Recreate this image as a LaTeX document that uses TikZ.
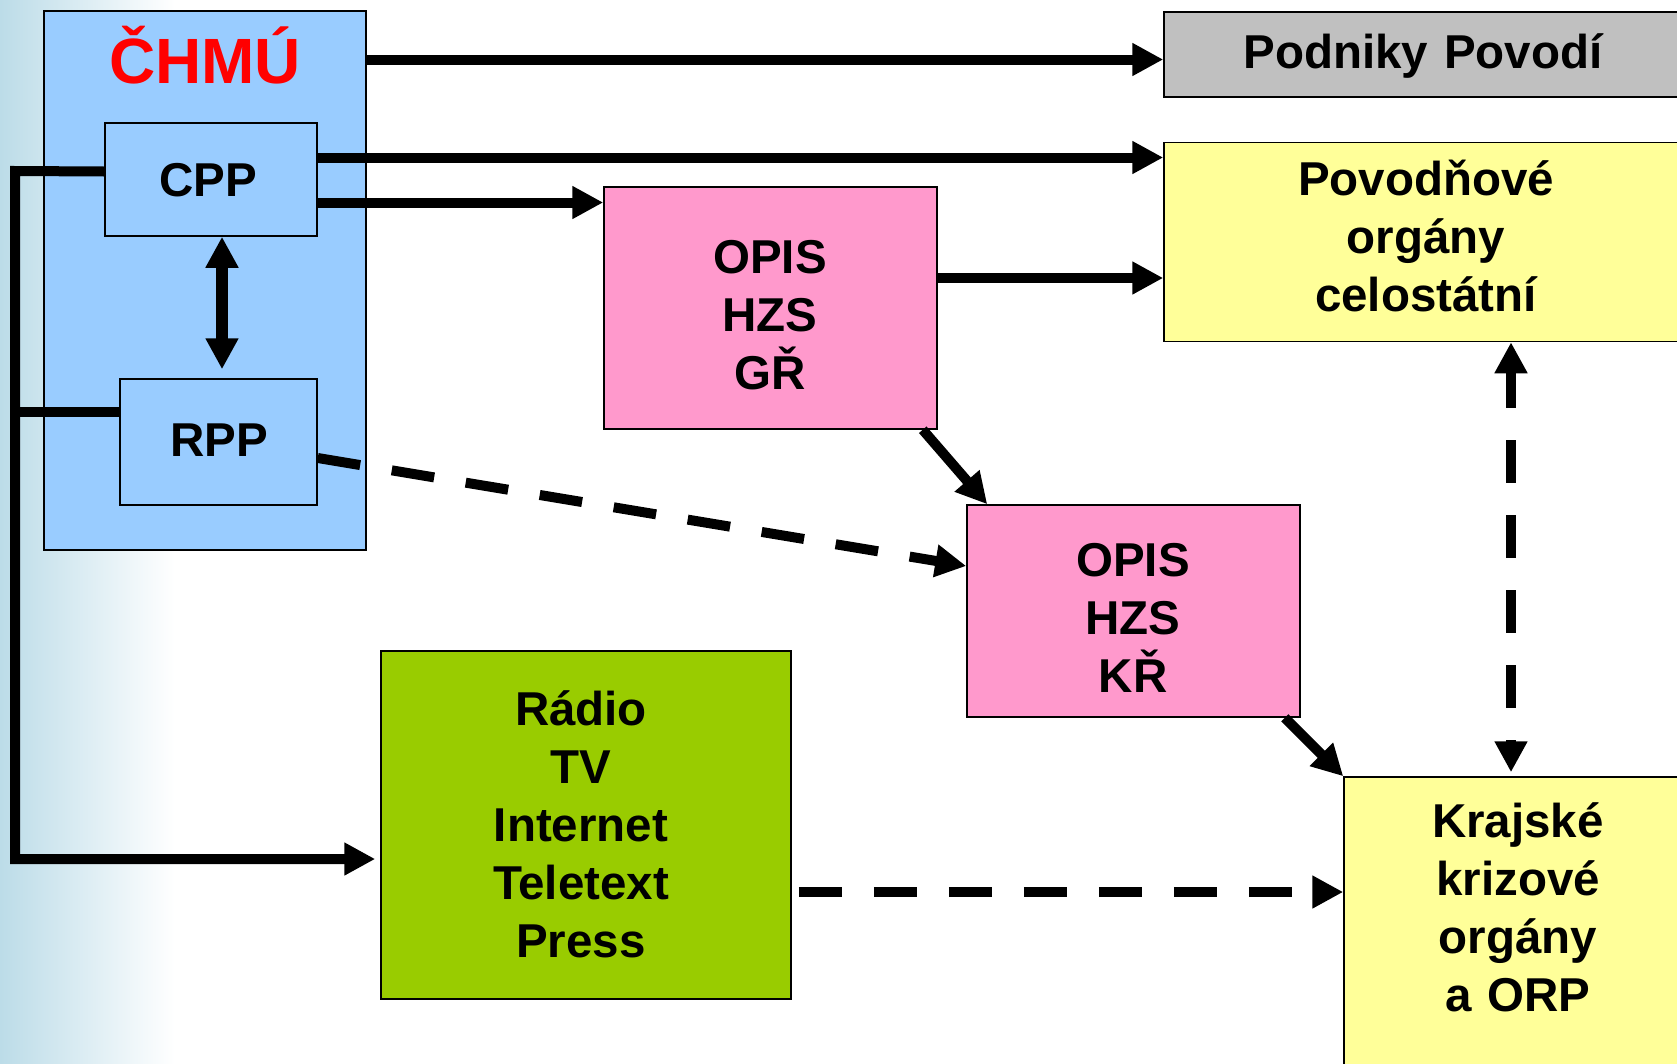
\documentclass[tikz,border=0pt]{standalone}
\usepackage{fontspec}
\setmainfont{Liberation Sans}
\usetikzlibrary{arrows.meta}
\definecolor{chmublue}{HTML}{99CCFF}
\definecolor{podgray}{HTML}{C0C0C0}
\definecolor{lightyel}{HTML}{FFFF99}
\definecolor{opispink}{HTML}{FF99CC}
\definecolor{medgreen}{HTML}{99CC00}
\definecolor{bgblue}{HTML}{BCDCE8}
\begin{document}
\begin{tikzpicture}[x=1pt,y=-1pt,
  box/.style={draw=black,line width=1.5pt,rectangle,inner sep=0pt},
  lbl/.style={font=\fontsize{47.5}{58}\selectfont\bfseries,align=center,text width=420pt,anchor=base,inner sep=0pt},
  conn/.style={line width=10pt,draw=black},
  tip/.style={-{Triangle[length=31pt,width=31pt]}},
  dtip/.style={{Triangle[length=31pt,width=31pt]}-{Triangle[length=31pt,width=31pt]}},
  dashline/.style={dash pattern=on 43pt off 32pt}
]
\useasboundingbox (0,0) rectangle (1677,1063);
\clip (0,0) rectangle (1677,1063);
\fill[white] (0,0) rectangle (1677,1063);
\shade[left color=bgblue,right color=white] (0,0) rectangle (175,1063);

% boxes
\node[box,fill=chmublue,minimum width=322pt,minimum height=539pt] (chmu) at (205,280.5) {};
\node[box,fill=chmublue,minimum width=212pt,minimum height=113pt] (cpp) at (211,179.5) {};
\node[box,fill=chmublue,minimum width=197pt,minimum height=126pt] (rpp) at (218.5,442) {};
\node[box,fill=podgray,minimum width=526pt,minimum height=85pt] (podniky) at (1427,54.5) {};
\node[box,fill=lightyel,minimum width=526pt,minimum height=199pt] (povod) at (1427,242) {};
\node[box,fill=opispink,minimum width=333pt,minimum height=242pt] (opisgr) at (770.5,308) {};
\node[box,fill=opispink,minimum width=333pt,minimum height=212pt] (opiskr) at (1133.5,611) {};
\node[box,fill=medgreen,minimum width=410pt,minimum height=348pt] (media) at (586,825) {};
\node[box,fill=lightyel,minimum width=346pt,minimum height=303pt] (krajske) at (1517,928.5) {};

% texts
\node[font=\fontsize{64}{70}\selectfont\bfseries,text=red,anchor=base,inner sep=0pt] (tchmu) at (205,83) {ČHMÚ};
\node[lbl] (tpodniky) at (1423,68) {Podniky Povodí};
\node[lbl] (tpovod) at (1426,195) {Povodňové\\orgány\\celostátní};
\node[lbl] (tcpp) at (208,196) {CPP};
\node[lbl] (trpp) at (219,456) {RPP};
\node[lbl] (topisgr) at (770,273) {OPIS\\HZS\\GŘ};
\node[lbl] (topiskr) at (1133,576) {OPIS\\HZS\\KŘ};
\node[lbl] (tmedia) at (581,725) {Rádio\\TV\\Internet\\Teletext\\Press};
\node[lbl] (tkrajske) at (1518,837) {Krajské\\krizové\\orgány\\a ORP};

% connectors
\coordinate (a1) at ([yshift=-5pt]podniky.west);
\draw[conn,tip] (a1 -| chmu.east) -- (a1);
\coordinate (a2) at ([yshift=22pt]cpp.east);
\draw[conn,tip] (a2) -- (a2 -| povod.west);
\coordinate (a3) at ([yshift=-23pt]cpp.east);
\draw[conn,tip] (a3) -- (a3 -| opisgr.west);
\coordinate (a4) at ([yshift=30pt]opisgr.east);
\draw[conn,tip] (a4) -- (a4 -| povod.west);
\draw[conn,tip] ([xshift=-15pt]opisgr.south east) -- ([xshift=21pt]opiskr.north west);
\draw[conn,tip] ([xshift=-16pt]opiskr.south east) -- (krajske.north west);
\draw[conn,dashline,tip] ([yshift=-16pt]rpp.east) -- ([yshift=45pt]opiskr.west);
\coordinate (a5) at ([xshift=7pt,yshift=-67pt]media.east);
\draw[conn,dashline,tip] (a5) -- (a5 -| krajske.west);
\coordinate (v1) at ([xshift=84pt]povod.south);
\coordinate (v2) at ([yshift=4pt]krajske.north);
\draw[conn,dashline,dash phase=6pt,dtip] (v1) -- (v1 |- v2);
\coordinate (d1) at ([xshift=11pt]cpp.south);
\coordinate (d2) at ([yshift=9pt]rpp.north);
\draw[conn,line width=12pt,dtip] (d1) -- (d1 |- d2);
% left bus
\coordinate (b1) at (15,171);
\coordinate (b2) at (15,859);
\draw[conn,tip,line join=miter] ([yshift=8pt]cpp.west) -- (b1) -- (b2) -- ([xshift=-5pt,yshift=-34pt]media.west);
\coordinate (r1) at ([yshift=30pt]rpp.west);
\draw[conn] (r1) -- (r1 -| b1);
\end{tikzpicture}
\end{document}
